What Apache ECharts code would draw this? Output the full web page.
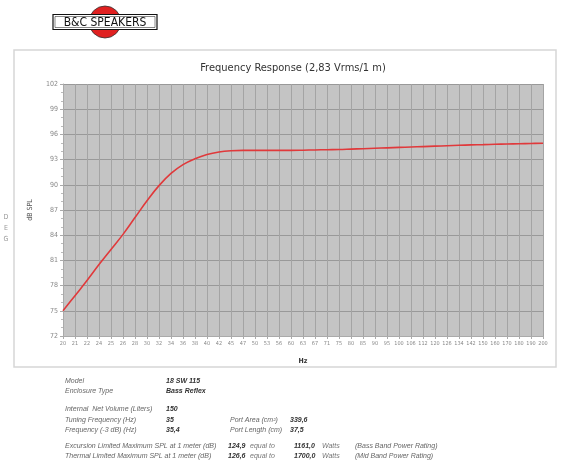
<!DOCTYPE html>
<html>
<head>
<meta charset="utf-8">
<script src="https://cdn.jsdelivr.net/npm/echarts@6/dist/echarts.min.js"></script>
<style>
  html, body { margin: 0; padding: 0; background: #fff; }
  #main { width: 586px; height: 466px; }
</style>
</head>
<body>
<div id="main"></div>
<script>
// frequency points (Hz) as printed on the x axis
var freqs = ['20', '21', '22', '24', '25', '26', '28', '30', '32', '34', '36', '38', '40', '42', '45', '47',
             '50', '53', '56', '60', '63', '67', '71', '75', '80', '85', '90', '95', '100', '106', '112', '120',
             '126', '134', '142', '150', '160', '170', '180', '190', '200'];
// SPL in dB
var spl = [75.0, 76.8, 78.6, 80.5, 82.3, 84.1, 86.1, 88.1, 89.9, 91.35, 92.4, 93.1, 93.6, 93.9, 94.05, 94.1,
           94.1, 94.1, 94.1, 94.1, 94.12, 94.15, 94.18, 94.2, 94.25, 94.3, 94.35, 94.4, 94.45, 94.5, 94.55, 94.6,
           94.65, 94.7, 94.75, 94.78, 94.82, 94.86, 94.89, 94.92, 94.95];

var specLabels = ['Model', 'Enclosure Type', '', 'Internal  Net Volume (Liters)', 'Tuning Frequency (Hz)', 'Frequency (-3 dB) (Hz)'];
var specValues = ['18 SW 115', 'Bass Reflex', '', '150', '35', '35,4'];
var portLabels = ['Port Area (cm\u00b2)', 'Port Length (cm)'];
var portValues = ['339,6', '37,5'];
var splLabels = ['Excursion Limited Maximum SPL at 1 meter (dB)', 'Thermal Limited Maximum SPL at 1 meter (dB)'];
var splMax = ['124,9', '126,6'];
var watts = ['1161,0', '1700,0'];
var ratings = ['(Bass Band Power Rating)', '(Mid Band Power Rating)'];

var cond = '"DejaVu Sans Condensed", "DejaVu Sans", sans-serif';
var arial = '"Liberation Sans", Arial, sans-serif';

var chart = echarts.init(document.getElementById('main'));

var g = [];
// outer frame of the chart
g.push({
    type: 'rect', z: -10,
    shape: { x: 14, y: 50, width: 542, height: 317 },
    style: { fill: '#fff', stroke: '#d6d6d6', lineWidth: 1.5 }
});
// logo
g.push({ type: 'circle', shape: { cx: 105, cy: 22, r: 16 }, style: { fill: '#e02020', stroke: '#333', lineWidth: 0.8 } });
g.push({ type: 'rect', shape: { x: 53, y: 14.5, width: 104, height: 15 }, style: { fill: '#fff', stroke: '#111', lineWidth: 1.2 } });
g.push({ type: 'rect', shape: { x: 55, y: 16.5, width: 100, height: 11 }, style: { fill: '#fff', stroke: '#111', lineWidth: 0.5 } });
g.push({ type: 'text', x: 105, y: 22.5, style: { text: 'B&C SPEAKERS', fill: '#111', font: '12px "Liberation Sans Narrow", ' + cond, align: 'center', verticalAlign: 'middle' } });
// left side annotations
['D', 'E', 'G'].forEach(function (c, i) {
    g.push({ type: 'text', x: 6, y: 217 + i * 11, style: { text: c, fill: '#999', font: '7px ' + cond, align: 'center', verticalAlign: 'middle' } });
});

// spec table
var rowsY = [381, 391, 0, 409, 420, 430];
specLabels.forEach(function (t, i) {
    if (!t) return;
    g.push({ type: 'text', x: 65, y: rowsY[i], style: { text: t, fill: '#666', font: 'italic 7px ' + arial, verticalAlign: 'middle' } });
    g.push({ type: 'text', x: 166, y: rowsY[i], style: { text: specValues[i], fill: '#333', font: 'italic bold 7px ' + arial, verticalAlign: 'middle' } });
});
portLabels.forEach(function (t, i) {
    g.push({ type: 'text', x: 230, y: rowsY[4 + i], style: { text: t, fill: '#666', font: 'italic 7px ' + arial, verticalAlign: 'middle' } });
    g.push({ type: 'text', x: 290, y: rowsY[4 + i], style: { text: portValues[i], fill: '#333', font: 'italic bold 7px ' + arial, verticalAlign: 'middle' } });
});
splLabels.forEach(function (t, i) {
    var y = 446 + i * 10;
    g.push({ type: 'text', x: 65, y: y, style: { text: t, fill: '#666', font: 'italic 7px ' + arial, verticalAlign: 'middle' } });
    g.push({ type: 'text', x: 228, y: y, style: { text: splMax[i], fill: '#333', font: 'italic bold 7px ' + arial, verticalAlign: 'middle' } });
    g.push({ type: 'text', x: 250, y: y, style: { text: 'equal to', fill: '#777', font: 'italic 7px ' + arial, verticalAlign: 'middle' } });
    g.push({ type: 'text', x: 294, y: y, style: { text: watts[i], fill: '#333', font: 'italic bold 7px ' + arial, verticalAlign: 'middle' } });
    g.push({ type: 'text', x: 322, y: y, style: { text: 'Watts', fill: '#777', font: 'italic 7px ' + arial, verticalAlign: 'middle' } });
    g.push({ type: 'text', x: 355, y: y, style: { text: ratings[i], fill: '#666', font: 'italic 7px ' + arial, verticalAlign: 'middle' } });
});

chart.setOption({
    animation: false,
    title: {
        text: 'Frequency Response (2,83 Vrms/1 m)',
        left: 'center',
        top: 58,
        textStyle: { fontFamily: cond, fontSize: 11, fontWeight: 'normal', color: '#333' }
    },
    graphic: g,
    grid: {
        left: 63, right: 43, top: 84, bottom: 130,
        show: true, backgroundColor: '#c4c4c4', borderWidth: 0
    },
    xAxis: {
        type: 'category',
        data: freqs,
        boundaryGap: false,
        name: 'Hz',
        nameLocation: 'middle',
        nameGap: 22,
        nameTextStyle: { fontFamily: cond, fontSize: 7, fontWeight: 'bold', color: '#333' },
        axisLine: { lineStyle: { color: '#aaa' } },
        axisTick: { show: true, length: 3, interval: 0, lineStyle: { color: '#aaa' } },
        axisLabel: { interval: 0, fontFamily: cond, fontSize: 5.5, color: '#888', margin: 5 },
        splitLine: { show: true, interval: 0, lineStyle: { color: '#a4a4a4', width: 1 } }
    },
    yAxis: {
        type: 'value',
        min: 72, max: 102, interval: 3,
        name: 'dB SPL',
        nameLocation: 'middle',
        nameGap: 29,
        nameRotate: 90,
        nameTextStyle: { fontFamily: cond, fontSize: 7, color: '#555' },
        axisLine: { show: true, lineStyle: { color: '#aaa' } },
        axisTick: { show: true, length: 3, lineStyle: { color: '#aaa' } },
        minorTick: { show: true, splitNumber: 3, length: 2, lineStyle: { color: '#bbb' } },
        axisLabel: { fontFamily: cond, fontSize: 7, color: '#888', margin: 5 },
        splitLine: { show: true, lineStyle: { color: '#999', width: 1 } }
    },
    series: [{
        type: 'line',
        data: spl,
        smooth: 0.4,
        symbol: 'none',
        lineStyle: { color: '#e0393b', width: 1.6 }
    }]
});
</script>
</body>
</html>
